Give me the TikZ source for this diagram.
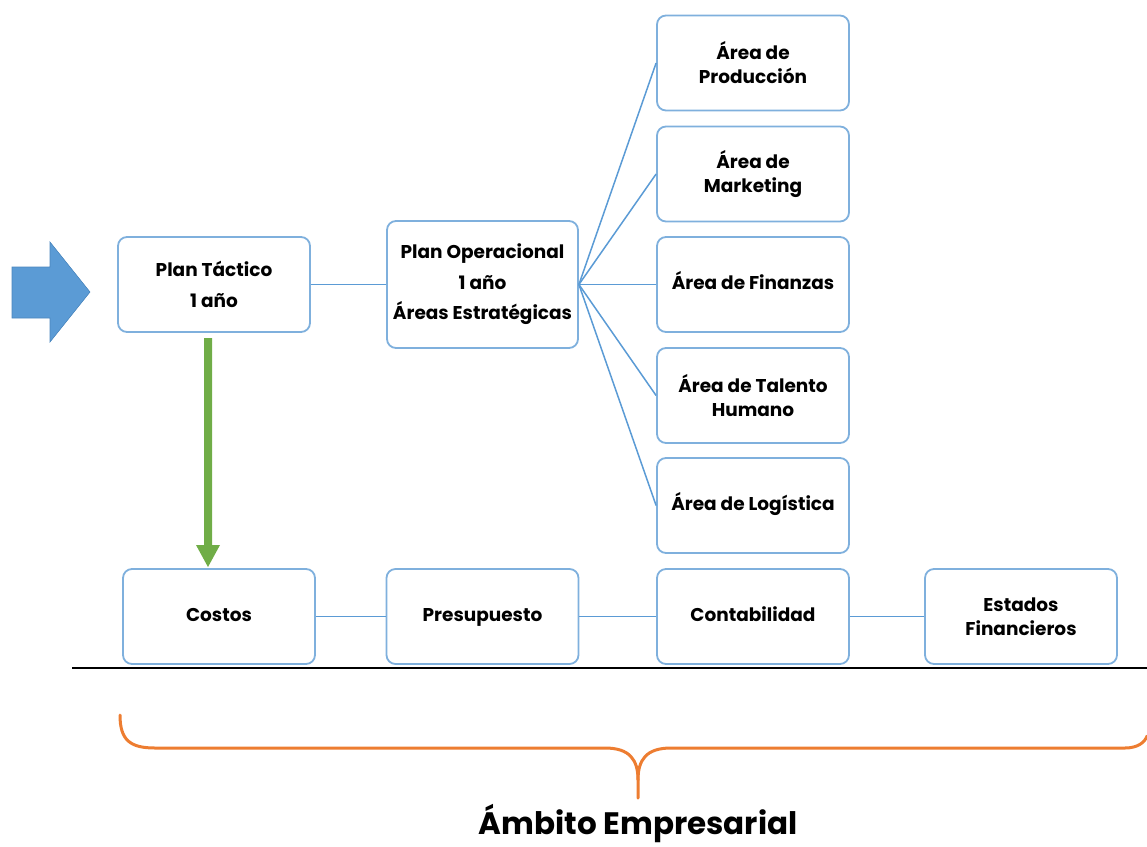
\documentclass[tikz,border=0pt]{standalone}
\usepackage{fontspec}
\setmainfont{Poppins}
\usetikzlibrary{calc}
\definecolor{boxblue}{HTML}{7FB0DD}
\definecolor{lineblue}{HTML}{5B9BD5}
\definecolor{arrowblue}{HTML}{5B9BD5}
\definecolor{arrowedge}{HTML}{4A86BE}
\definecolor{arrowgreen}{HTML}{70AD47}
\definecolor{braceorange}{HTML}{ED7D31}
\begin{document}
\begin{tikzpicture}[x=1pt,y=-1pt,
  box/.style={draw=boxblue, line width=1.8pt, rounded corners=9pt, fill=white,
    minimum width=192pt, minimum height=95pt, inner sep=0pt, align=center,
    font=\fontsize{18.5}{24}\selectfont\bfseries},
  wide/.style={font=\fontsize{18.5}{30.5}\selectfont\bfseries},
  link/.style={draw=lineblue, line width=1.5pt}]
\useasboundingbox (0,0) rectangle (1147,846);
% blue arrow
\fill[arrowblue, draw=arrowedge, line width=0.6pt]
  (12,267) -- (50,267) -- (50,242) -- (90,292) -- (50,342) -- (50,318) -- (12,318) -- cycle;
% boxes
\node[box, wide] (tac) at (214,284.5) {Plan Táctico\\1 año};
\node[box, wide, minimum width=191pt, minimum height=127pt] (ope) at (482.5,284.5) {Plan Operacional\\1 año\\Áreas Estratégicas};
\node[box] (pro) at (753,63) {Área de\\Producción};
\node[box] (mkt) at (753,174) {Área de\\Marketing};
\node[box] (fin) at (753,284.5) {\strut Área de Finanzas};
\node[box] (tal) at (753,395.5) {Área de Talento\\Humano};
\node[box] (log) at (753,505.5) {\strut Área de Logística};
\node[box] (cos) at (219,616.5) {\strut Costos};
\node[box] (pre) at (482.5,616.5) {\strut Presupuesto};
\node[box] (con) at (753,616.5) {\strut Contabilidad};
\node[box] (est) at (1021,616.5) {Estados\\Financieros};
% connectors
\draw[link] (tac.east) -- (ope.west);
\foreach \t in {pro,mkt,fin,tal,log}{\draw[link] (ope.east) -- (\t.west);}
\draw[link] (cos.east) -- (pre.west);
\draw[link] (pre.east) -- (con.west);
\draw[link] (con.east) -- (est.west);
% green arrow
\fill[arrowgreen] (204,338) -- (212,338) -- (212,545) -- (220,545) -- (208,567) -- (196,545) -- (204,545) -- cycle;
% base line
\draw[black, line width=1.2pt] (72,668) -- (1147,668);
% brace
\draw[braceorange, line width=3pt, line cap=round]
  (120,715) .. controls (120,740) and (130,748) .. (155,748) -- (605,748)
  .. controls (630,748) and (638,760) .. (638,780) -- (638,798);
\draw[braceorange, line width=3pt, line cap=round]
  (638,780) .. controls (638,760) and (646,748) .. (671,748) -- (1125,748)
  .. controls (1138,748) and (1145,742) .. (1147,736);
\node[font=\fontsize{31}{36}\selectfont\bfseries, anchor=base] (amb) at (638,834) {Ámbito Empresarial};
\end{tikzpicture}
\end{document}
